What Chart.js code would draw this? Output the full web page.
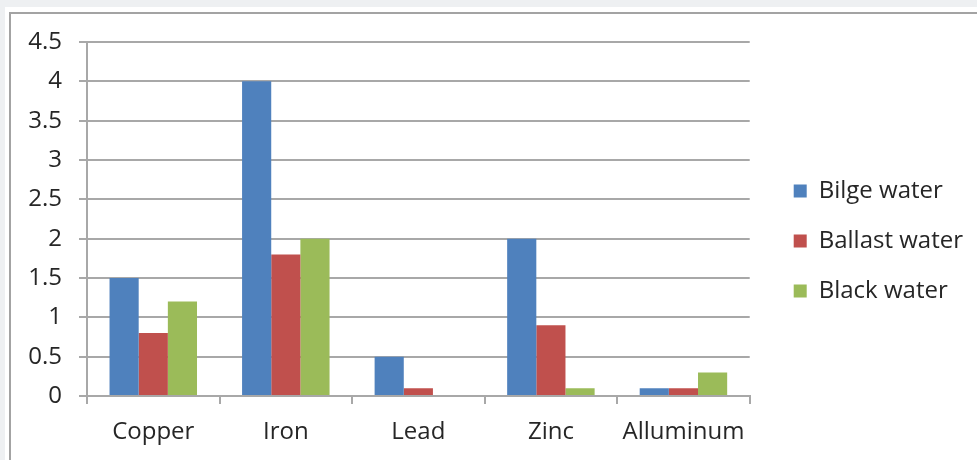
<!DOCTYPE html>
<html>
<head>
<meta charset="utf-8">
<script src="https://cdn.jsdelivr.net/npm/chart.js@4/dist/chart.umd.min.js"></script>
<style>
  html, body { margin: 0; padding: 0; background: #eef0f2; width: 977px; height: 460px; overflow: hidden; }
  #panel { position: absolute; left: 5px; top: 7px; right: 0; bottom: 0; background: #ffffff; }
  #frame { position: absolute; left: 9px; top: 12px; right: -5px; bottom: -5px;
           border-left: 2px solid #a3a3a3; border-top: 2px solid #a3a3a3; }
  #wrap { position: absolute; left: 0; top: 0; width: 977px; height: 460px; }
</style>
</head>
<body>
<div id="panel"></div>
<div id="frame"></div>
<div id="wrap"><canvas id="chart" width="977" height="460"></canvas></div>
<script>
// Metal concentrations by water type
const metals = ['Copper', 'Iron', 'Lead', 'Zinc', 'Alluminum'];
const bilgeWater = [1.5, 4, 0.5, 2, 0.1];
const ballastWater = [0.8, 1.8, 0.1, 0.9, 0.1];
const blackWater = [1.2, 2, 0, 0.1, 0.3];
const seriesNames = ['Bilge water', 'Ballast water', 'Black water'];

const textColor = '#262626';
const lineColor = '#a8a8a8';
const fontFamily = "'Open Sans', sans-serif";
const fontSize = 24;

// Places the legend column a little further right and centred on the plot
const legendOffset = {
  id: 'legendOffset',
  afterLayout(chart) {
    const lg = chart.legend;
    if (!lg) return;
    const pad = lg.options.labels.padding;
    const dx = chart.chartArea.right + 44 - pad - lg.left;
    lg.left += dx;
    lg.right += dx;
    lg.top = 0;
    lg.bottom = 482;
  }
};

new Chart(document.getElementById('chart'), {
  type: 'bar',
  data: {
    labels: metals,
    datasets: [
      { label: seriesNames[0], data: bilgeWater, backgroundColor: '#4f81bd' },
      { label: seriesNames[1], data: ballastWater, backgroundColor: '#c0504d' },
      { label: seriesNames[2], data: blackWater, backgroundColor: '#9bbb59' }
    ]
  },
  options: {
    responsive: false,
    animation: false,
    layout: { padding: { top: 42, left: 0, right: 22, bottom: 0 } },
    datasets: { bar: { barPercentage: 1, categoryPercentage: 0.66 } },
    plugins: {
      tooltip: { enabled: false },
      legend: {
        position: 'right',
        align: 'center',
        labels: {
          font: { family: fontFamily, size: fontSize },
          color: textColor,
          boxWidth: 13,
          boxHeight: 13,
          padding: 50 - fontSize
        }
      }
    },
    scales: {
      x: {
        offset: true,
        afterFit(scale) { scale.height = 64; },
        grid: { offset: true, drawOnChartArea: false, drawTicks: true, tickLength: 8, color: lineColor, lineWidth: 2 },
        border: { color: lineColor, width: 2 },
        ticks: { font: { family: fontFamily, size: fontSize }, color: textColor, padding: 14 }
      },
      y: {
        min: 0,
        max: 4.5,
        afterFit(scale) { scale.width = 87; },
        grid: { color: lineColor, lineWidth: 2, tickLength: 8 },
        border: { color: lineColor, width: 2 },
        ticks: {
          stepSize: 0.5,
          font: { family: fontFamily, size: fontSize },
          color: textColor,
          padding: 17,
          callback: (v) => String(Number(v.toFixed(2)))
        }
      }
    }
  },
  plugins: [legendOffset]
});
</script>
</body>
</html>
